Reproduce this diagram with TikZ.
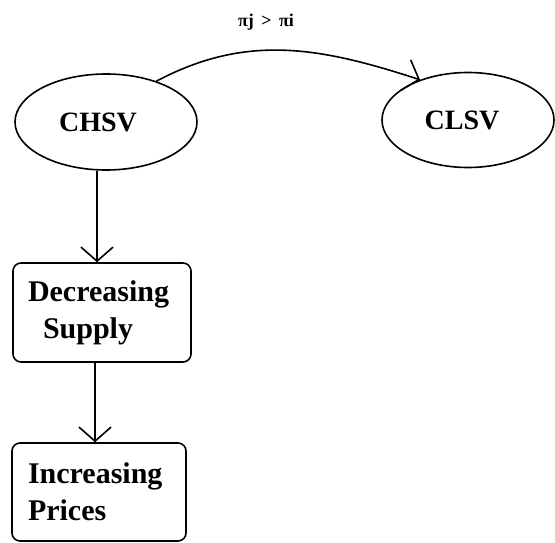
\documentclass[tikz,border=0pt]{standalone}
\usepackage{fontspec}
\setmainfont{Liberation Serif}
\usetikzlibrary{arrows.meta,shapes.geometric}
\begin{document}
\begin{tikzpicture}[x=1pt,y=1pt,
  state/.style={draw, ellipse, line width=1.6pt, inner sep=0pt,
    font=\bfseries\fontsize{28}{34}\selectfont},
  procbox/.style={draw, rectangle, rounded corners=8pt, line width=1.6pt,
    align=left, inner ysep=0pt, font=\bfseries\fontsize{30}{37}\selectfont},
  flow/.style={line width=1.6pt,
    -{Straight Barb[length=14pt,width=32pt,line width=1.6pt]}},
  note/.style={font=\bfseries\fontsize{18}{20}\selectfont}
]
\useasboundingbox (0,0) rectangle (555,-543);

% states (labels sit a little left of centre)
\node[state, minimum width=182pt, minimum height=96pt] (chsv) at (106,-122)
  {CHSV\hspace*{16pt}};
\node[state, minimum width=172pt, minimum height=95pt] (clsv) at (468,-120)
  {CLSV\hspace*{12pt}};

% consequences
\node[procbox, inner xsep=15pt, text width=148pt, minimum height=99pt]
  (dsup) at (102,-312.5) {Decreasing\\\hspace*{0.5em}Supply};
\node[procbox, inner xsep=16pt, text width=142pt, minimum height=98pt]
  (iprc) at (99,-492) {Increasing\\Prices};

% vertical flow lines
\coordinate (x1) at (97,0);
\coordinate (x2) at (95,0);
\draw[flow] (chsv.south -| x1) -- (dsup.north -| x1);
\draw[flow] (dsup.south -| x2) -- (iprc.north -| x2);

% switch between states
\draw[flow] (chsv.39) to[out=28, in=162, looseness=1] (clsv.140);
\node[note] (cond) at (266,-22) {πj \,>\, πi};
\end{tikzpicture}
\end{document}
